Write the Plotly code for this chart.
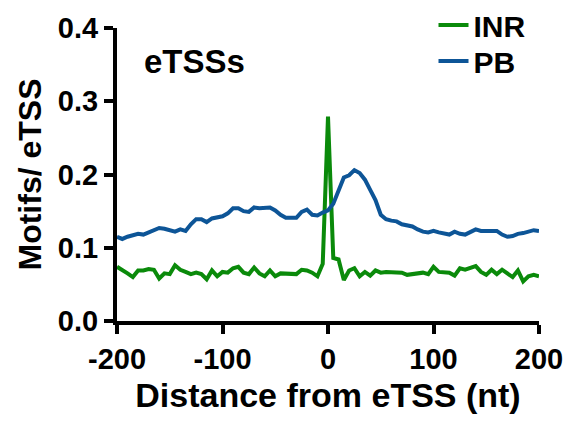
import plotly.graph_objects as go

x_nt = list(range(-200, 201, 5))

inr = [0.074, 0.070, 0.065, 0.060, 0.069, 0.069, 0.071, 0.070, 0.058, 0.065,
       0.064, 0.076, 0.070, 0.067, 0.064, 0.066, 0.064, 0.057, 0.069, 0.061,
       0.067, 0.066, 0.072, 0.074, 0.066, 0.064, 0.073, 0.065, 0.061, 0.069,
       0.061, 0.065, 0.065, 0.064, 0.064, 0.070, 0.069, 0.066, 0.061, 0.078,
       0.279, 0.086, 0.084, 0.056, 0.069, 0.072, 0.061, 0.067, 0.062, 0.069,
       0.066, 0.067, 0.067, 0.067, 0.066, 0.063, 0.064, 0.066, 0.066, 0.064,
       0.074, 0.067, 0.066, 0.066, 0.062, 0.072, 0.070, 0.072, 0.075, 0.067,
       0.063, 0.070, 0.064, 0.070, 0.065, 0.060, 0.069, 0.054, 0.061, 0.063,
       0.061]

pb = [0.115, 0.112, 0.115, 0.117, 0.119, 0.118, 0.121, 0.123, 0.127, 0.126,
      0.124, 0.122, 0.125, 0.123, 0.132, 0.139, 0.139, 0.135, 0.140, 0.141,
      0.143, 0.147, 0.154, 0.154, 0.150, 0.149, 0.155, 0.154, 0.154, 0.155,
      0.151, 0.145, 0.141, 0.141, 0.141, 0.149, 0.152, 0.145, 0.144, 0.148,
      0.151, 0.160, 0.179, 0.196, 0.199, 0.206, 0.202, 0.193, 0.179, 0.165,
      0.145, 0.139, 0.137, 0.136, 0.132, 0.131, 0.129, 0.125, 0.122, 0.121,
      0.123, 0.121, 0.120, 0.118, 0.122, 0.119, 0.118, 0.121, 0.125, 0.123,
      0.123, 0.122, 0.123, 0.118, 0.115, 0.116, 0.119, 0.120, 0.122, 0.124,
      0.123]

x_ticks = [-200, -100, 0, 100, 200]
y_ticks = [0.0, 0.1, 0.2, 0.3, 0.4]

FONT = "Liberation Sans, Arial, sans-serif"

fig = go.Figure()
fig.add_trace(go.Scatter(x=x_nt, y=inr, mode="lines", name="INR", legend="legend",
                         line=dict(color="#0a8a0a", width=4)))
fig.add_trace(go.Scatter(x=x_nt, y=pb, mode="lines", name="PB", legend="legend2",
                         line=dict(color="#0d5597", width=4)))

legend_common = dict(xanchor="left", yanchor="top", bgcolor="rgba(0,0,0,0)",
                     font=dict(family=FONT, size=30, color="black", weight="bold"),
                     itemwidth=30)

fig.update_layout(
    width=569, height=422,
    margin=dict(l=117, r=30, t=28, b=101, autoexpand=False),
    plot_bgcolor="white", paper_bgcolor="white",
    font=dict(family=FONT, color="black", size=24, weight="bold"),
    showlegend=True,
    legend=dict(x=0.75, y=1.099, **legend_common),
    legend2=dict(x=0.75, y=0.976, **legend_common),
    xaxis=dict(range=[-200, 200], tickvals=x_ticks,
               ticktext=[str(v) for v in x_ticks],
               showgrid=False, zeroline=False, automargin=False,
               showline=True, linecolor="black", linewidth=4,
               ticks="outside", ticklen=9, tickwidth=4, tickcolor="black",
               tickfont=dict(family=FONT, size=29, color="black", weight="bold"),
               title=dict(text="Distance from eTSS (nt)",
                          font=dict(family=FONT, size=34, color="black", weight="bold"),
                          standoff=10)),
    yaxis=dict(range=[0, 0.4], tickvals=y_ticks,
               ticktext=[f"{v:.1f}" for v in y_ticks],
               showgrid=False, zeroline=False, automargin=False,
               showline=True, linecolor="black", linewidth=4,
               ticks="outside", ticklen=9, tickwidth=4, tickcolor="black",
               tickfont=dict(family=FONT, size=29, color="black", weight="bold"),
               title=dict(text="Motifs/ eTSS",
                          font=dict(family=FONT, size=32, color="black", weight="bold"),
                          standoff=8)),
    annotations=[dict(text="eTSSs", x=0.06, y=0.885, xref="paper", yref="paper",
                      xanchor="left", yanchor="middle", showarrow=False,
                      font=dict(family=FONT, size=33, color="black", weight="bold"))],
)

fig.write_html("out.html")
